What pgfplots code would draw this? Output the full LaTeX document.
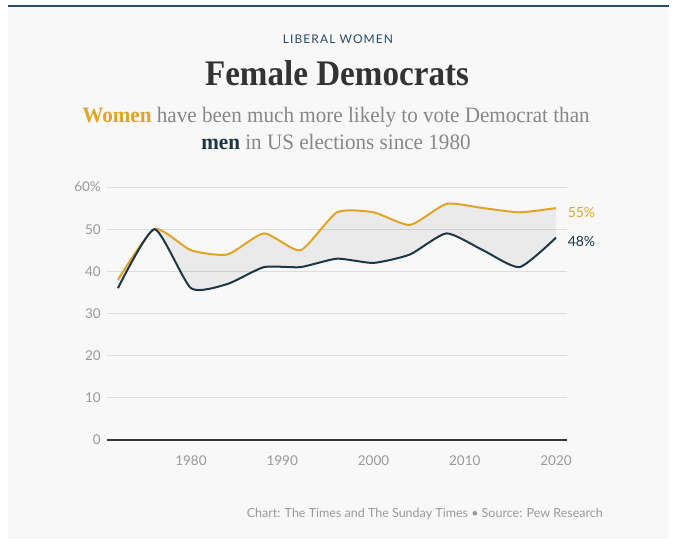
\documentclass[border=0pt]{standalone}
\usepackage{fontspec}
\setmainfont{Lato}
\newfontfamily\serifx[FakeStretch=0.92]{Liberation Serif}
\newfontfamily\serifs[FakeStretch=0.96]{Liberation Serif}
\newfontfamily\kicker[LetterSpace=9]{Lato}
\usepackage{pgfplots}
\pgfplotsset{compat=1.18}
\usepgfplotslibrary{fillbetween}
\definecolor{panel}{HTML}{F8F8F8}
\definecolor{topline}{HTML}{2B4A63}
\definecolor{gold}{HTML}{E0A527}
\definecolor{navy}{HTML}{1E3747}
\definecolor{gridc}{HTML}{DDDDDD}
\definecolor{tickc}{HTML}{999999}
\definecolor{subc}{HTML}{878787}
\definecolor{titlec}{HTML}{333333}
\begin{document}
\begin{tikzpicture}[x=1pt,y=1pt]
\node[anchor=base, text=topline, font=\kicker\fontsize{12}{14}\selectfont, inner sep=0pt] at (338,502) {LIBERAL WOMEN};
\node[anchor=base, text=titlec, font=\serifx\bfseries\fontsize{36}{40}\selectfont, inner sep=0pt] at (337,460) {Female Democrats};
\node[anchor=base, text=subc, font=\serifs\fontsize{22}{26}\selectfont, inner sep=0pt] at (336,423.3) {{\color{gold}\bfseries Women} have been much more likely to vote Democrat than};
\node[anchor=base, text=subc, font=\serifs\fontsize{22}{26}\selectfont, inner sep=0pt] at (336,396) {{\color{navy}\bfseries men} in US elections since 1980};
\node[anchor=base east, text=tickc, font=\fontsize{12.5}{14}\selectfont, inner sep=0pt] at (603,28) {Chart: The Times and The Sunday Times \textbullet\ Source: Pew Research};
\begin{axis}[
  at={(107pt,106pt)}, anchor=south west,
  scale only axis, width=460pt, height=253pt,
  xmin=1970.8, xmax=2021.2, ymin=0, ymax=60,
  axis x line=bottom, axis y line=left,
  x axis line style={-, line width=1.5pt, color=titlec},
  y axis line style={draw=none},
  major tick length=0pt,
  xtick={1980,1990,2000,2010,2020},
  xticklabels={1980,1990,2000,2010,2020},
  ytick={0,10,20,30,40,50,60},
  yticklabels={0,10,20,30,40,50,60\%},
  ymajorgrids, grid style={gridc, line width=0.8pt},
  tick label style={text=tickc, font=\fontsize{13.5}{15}\selectfont},
  /pgf/number format/assume math mode=true,
  yticklabel style={inner sep=0pt, anchor=east, xshift=-6pt},
  xticklabel style={inner sep=0pt, anchor=north, yshift=-16pt},
  clip=false,
]
\addplot[name path=women, draw=none, smooth, tension=0.35] coordinates {
(1972,38) (1976,50) (1980,45) (1984,44) (1988,49) (1992,45) (1996,54) (2000,54) (2004,51) (2008,56) (2012,55) (2016,54) (2020,55)};
\addplot[name path=men, draw=none, smooth, tension=0.35] coordinates {
(1972,36) (1976,50) (1980,36) (1984,37) (1988,41) (1992,41) (1996,43) (2000,42) (2004,44) (2008,49) (2012,45) (2016,41) (2020,48)};
\addplot[fill=black, fill opacity=0.055, draw=none] fill between[of=women and men];
\addplot[gold, line width=2pt, smooth, tension=0.35] coordinates {
(1972,38) (1976,50) (1980,45) (1984,44) (1988,49) (1992,45) (1996,54) (2000,54) (2004,51) (2008,56) (2012,55) (2016,54) (2020,55)};
\addplot[navy, line width=2pt, smooth, tension=0.35] coordinates {
(1972,36) (1976,50) (1980,36) (1984,37) (1988,41) (1992,41) (1996,43) (2000,42) (2004,44) (2008,49) (2012,45) (2016,41) (2020,48)};
\node[anchor=west, text=gold, font=\fontsize{14}{16}\selectfont, inner sep=0pt, xshift=11.5pt, yshift=-4.5pt] at (axis cs:2020,55) {55\%};
\node[anchor=west, text=navy, font=\fontsize{14}{16}\selectfont, inner sep=0pt, xshift=11.5pt, yshift=-4pt] at (axis cs:2020,48) {48\%};
\end{axis}
\begin{pgfonlayer}{axis background}
\fill[white] (0,0) rectangle (680,546);
\fill[panel] (8,7) rectangle (669,539.5);
\draw[topline, line width=2pt] (8,539.5) -- (669,539.5);
\end{pgfonlayer}
\end{tikzpicture}
\end{document}
